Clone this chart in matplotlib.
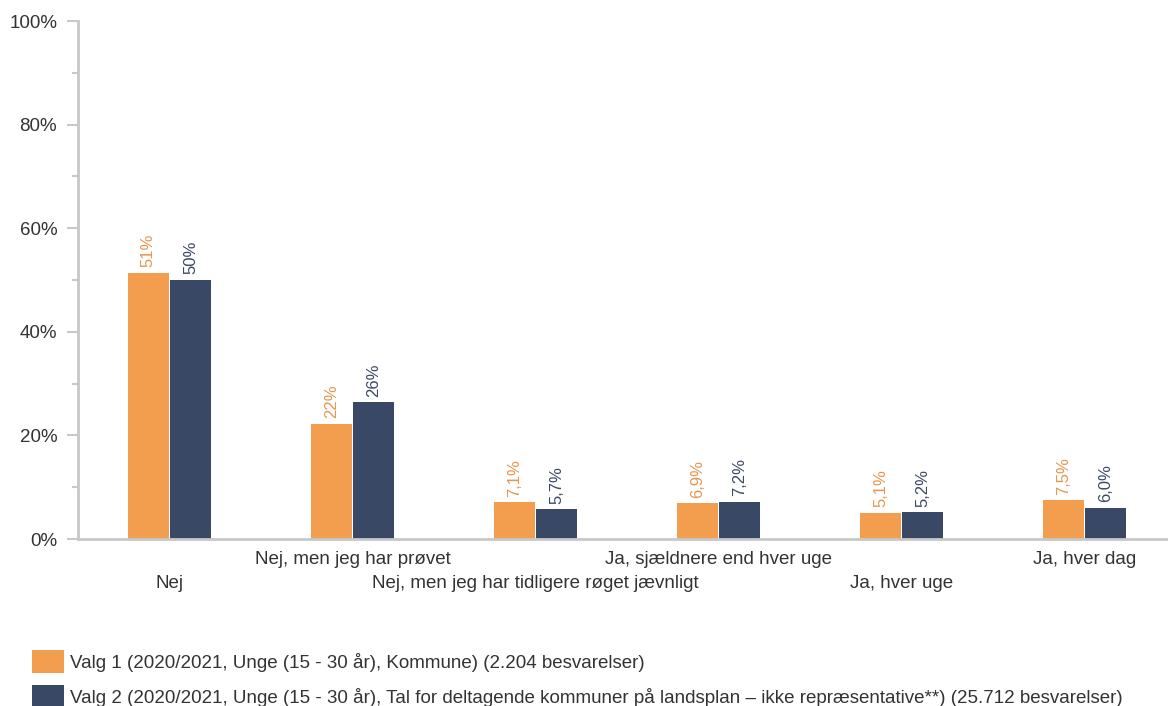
import matplotlib.pyplot as plt
import numpy as np
from matplotlib.ticker import MultipleLocator, FuncFormatter

plt.rcParams['font.family'] = ['Liberation Sans', 'DejaVu Sans']

# -------------------------
# Data
# -------------------------
categories = [
    "Nej",
    "Nej, men jeg har prøvet",
    "Nej, men jeg har tidligere røget jævnligt",
    "Ja, sjældnere end hver uge",
    "Ja, hver uge",
    "Ja, hver dag",
]
valg1 = [51.4, 22.2, 7.1, 6.9, 5.1, 7.5]
valg2 = [50.0, 26.4, 5.7, 7.2, 5.2, 6.0]
series_names = [
    "Valg 1 (2020/2021, Unge (15 - 30 år), Kommune) (2.204 besvarelser)",
    "Valg 2 (2020/2021, Unge (15 - 30 år), Tal for deltagende kommuner på landsplan – ikke repræsentative**) (25.712 besvarelser)",
]

ORANGE = "#F39D4F"
NAVY = "#394864"
GREY = "#C8C8C8"
TEXT = "#333333"


def fmt_label(v):
    if v >= 10:
        return f"{v:.0f}%"
    return f"{v:.1f}%".replace(".", ",")


fig = plt.figure(figsize=(11.68, 7.06), dpi=100)
ax = fig.add_axes([78 / 1168, 1 - 539 / 706, 1 - 78 / 1168 + 0.007, 518 / 706])

x = np.arange(len(categories))
w = 0.225
b1 = ax.bar(x - w / 2 - 0.003, valg1, w, color=ORANGE, label=series_names[0])
b2 = ax.bar(x + w / 2 + 0.003, valg2, w, color=NAVY, label=series_names[1])

for bars, vals, col in [(b1, valg1, "#E8954E"), (b2, valg2, NAVY)]:
    for rect, v in zip(bars, vals):
        ax.annotate(fmt_label(v), (rect.get_x() + rect.get_width() / 2, rect.get_height()),
                    xytext=(0, 4), textcoords="offset points", rotation=90,
                    ha="center", va="bottom", fontsize=12, color=col)

ax.set_xlim(-0.5, 5.5)
ax.set_ylim(0, 100)
ax.yaxis.set_major_locator(MultipleLocator(20))
ax.yaxis.set_minor_locator(MultipleLocator(10))
ax.yaxis.set_major_formatter(FuncFormatter(lambda v, p: f"{v:.0f}%"))

for s in ["top", "right"]:
    ax.spines[s].set_visible(False)
for s in ["left", "bottom"]:
    ax.spines[s].set_color(GREY)
    ax.spines[s].set_linewidth(2)

ax.tick_params(axis="y", which="major", length=8, width=1.5, color=GREY,
               labelsize=13.5, labelcolor=TEXT, pad=7)
ax.tick_params(axis="y", which="minor", length=4, width=1.5, color=GREY)
ax.set_xticks(x)
ax.set_xticklabels([])
ax.tick_params(axis="x", length=0)

# alternating category labels
for i, cat in enumerate(categories):
    yoff = -26 if i % 2 == 0 else -8.5
    ax.annotate(cat, (x[i], 0), xytext=(0, yoff), textcoords="offset points",
                ha="center", va="top", fontsize=13.5, color=TEXT,
                annotation_clip=False)

fig.legend(handles=[b1, b2], loc="upper left", bbox_to_anchor=(15 / 1168, 1 - 633 / 706),
           frameon=False, fontsize=13.5, handlelength=1.7, handleheight=1.55,
           handletextpad=0.32, labelspacing=0.6, labelcolor=TEXT)

fig.savefig("out.png", dpi=100)
